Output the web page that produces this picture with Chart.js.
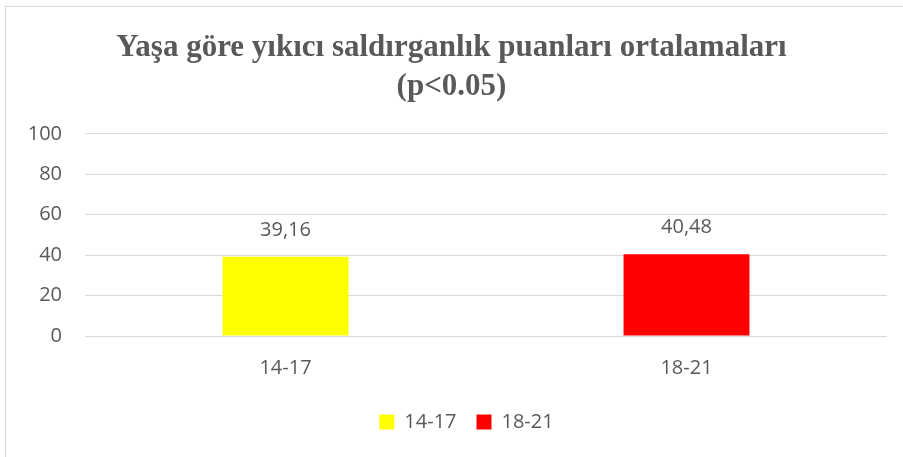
<!DOCTYPE html>
<html>
<head>
<meta charset="utf-8">
<script src="https://cdn.jsdelivr.net/npm/chart.js@4.4.0/dist/chart.umd.min.js"></script>
<style>
  html, body { margin: 0; padding: 0; background: #fff; }
  #wrap { position: relative; width: 903px; height: 457px; overflow: hidden; }
  #frame { position: absolute; left: 5px; top: 6px; width: 1000px; height: 1000px; border: 1px solid #d9d9d9; box-sizing: border-box; }
  #myChart { position: absolute; left: 0; top: 0; }
</style>
</head>
<body>
<div id="wrap">
  <div id="frame"></div>
  <canvas id="myChart" width="903" height="457"></canvas>
</div>
<script>
'use strict';

//***************** Data *****************
let ageGroups = ['14-17', '18-21'];
let youngScores = [39.16, null];
let olderScores = [null, 40.48];
let yTicks = [0, 20, 40, 60, 80, 100];

let ctx = document.getElementById('myChart');

// draws the value above each bar, comma as decimal sign
let valueLabels = {
  id: 'valueLabels',
  afterDatasetsDraw(chart) {
    let c = chart.ctx;
    c.save();
    c.font = '20px "Open Sans"';
    c.fillStyle = '#595959';
    c.textAlign = 'center';
    c.textBaseline = 'middle';
    chart.data.datasets.forEach(function (ds, i) {
      chart.getDatasetMeta(i).data.forEach(function (bar, j) {
        if (ds.data[j] === null) return;
        c.fillText(ds.data[j].toFixed(2).replace('.', ','), bar.x, bar.y - 27);
      });
    });
    c.restore();
  }
};

// legend in the original sits a bit right of centre
let legendShift = {
  id: 'legendShift',
  afterLayout(chart) {
    chart.legend.left += 15;
    chart.legend.right += 15;
  }
};

let myChartObj = {
  type: 'bar',
  data: {
    labels: ageGroups,
    datasets: [{
      label: '14-17',
      data: youngScores,
      backgroundColor: '#ffff00',
      categoryPercentage: 0.314,
      barPercentage: 1
    },
    {
      label: '18-21',
      data: olderScores,
      backgroundColor: '#ff0000',
      categoryPercentage: 0.314,
      barPercentage: 1
    }]
  },
  options: {
    responsive: false,
    animation: false,
    skipNull: true,
    layout: { padding: { left: 16, right: 16, top: 29, bottom: 15 } },
    plugins: {
      title: {
        display: true,
        text: ['Yaşa göre yıkıcı saldırganlık puanları ortalamaları', '(p<0.05)'],
        color: '#595959',
        font: { family: '"Liberation Serif"', size: 31, weight: 'bold', lineHeight: 1.24 },
        padding: { top: 0, bottom: 28 }
      },
      legend: {
        position: 'bottom',
        labels: {
          color: '#595959',
          font: { family: '"Open Sans"', size: 20 },
          boxWidth: 15,
          boxHeight: 15,
          padding: 20
        }
      },
      tooltip: { enabled: false }
    },
    scales: {
      x: {
        grid: { display: false },
        border: { display: false },
        ticks: { color: '#595959', font: { family: '"Open Sans"', size: 20 }, padding: 12 }
      },
      y: {
        min: 0,
        max: 100,
        afterBuildTicks: function (axis) {
          axis.ticks = yTicks.map(function (v) { return { value: v }; });
        },
        afterFit: function (axis) {
          axis.width = 69;
        },
        grid: { color: '#d9d9d9', lineWidth: 1, drawTicks: false },
        border: { display: false },
        ticks: { color: '#595959', font: { family: '"Open Sans"', size: 20 }, padding: 23 }
      }
    }
  },
  plugins: [valueLabels, legendShift]
};

new Chart(ctx, myChartObj);
</script>
</body>
</html>
